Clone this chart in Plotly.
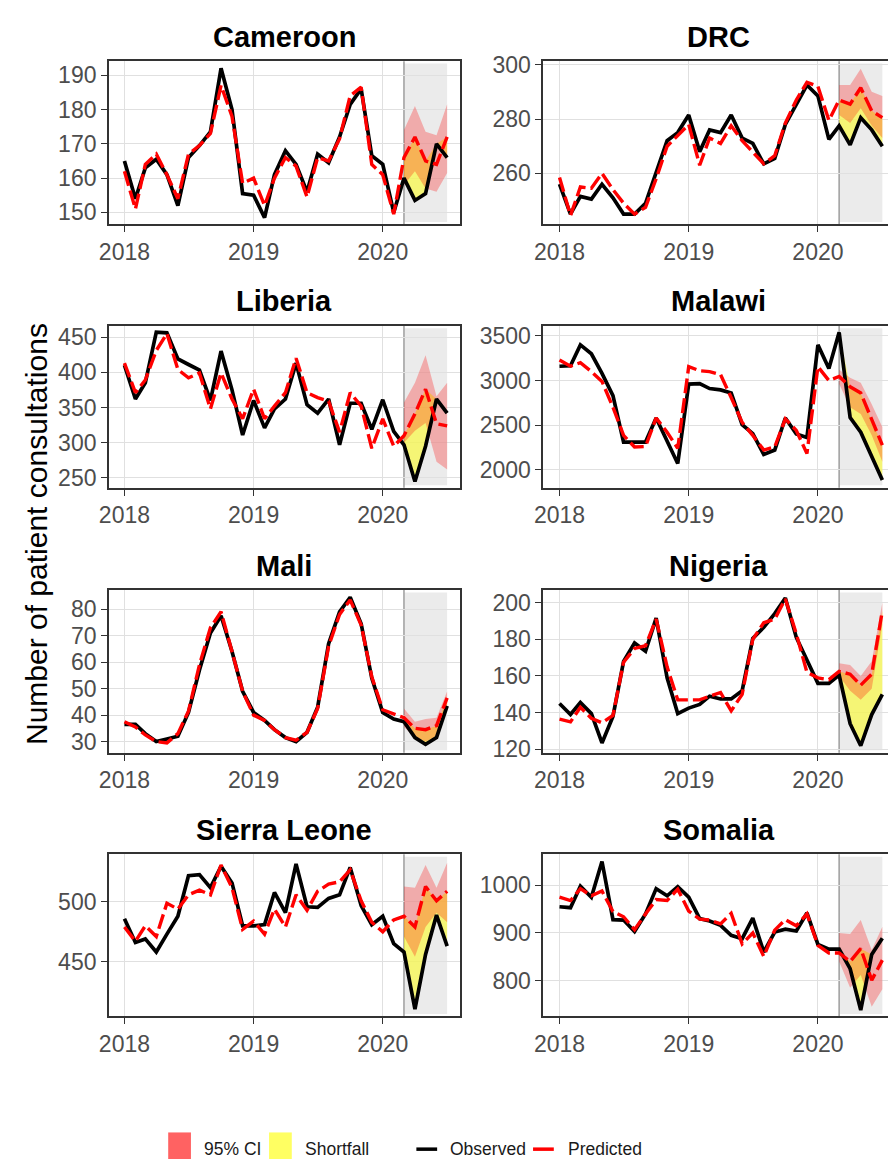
import pandas as pd
import plotly.graph_objects as go

# ---------------- data ----------------
countries = ["Cameroon", "DRC", "Liberia", "Malawi", "Mali", "Nigeria", "Sierra Leone", "Somalia"]
months = pd.date_range("2018-01-01", "2020-07-01", freq="MS")   # Jan 2018 .. Jul 2020
forecast_start = "2020-03-01"
forecast_end = "2020-07-01"
year_ticks = ["2018-01-01", "2019-01-01", "2020-01-01"]
year_labels = ["2018", "2019", "2020"]

cameroon_obs = [165, 154, 163, 165.5, 161, 152, 166, 169.5, 173.5, 192, 180, 155.5, 155, 148.5, 161, 168, 164, 156, 167, 164.5, 172, 181.5, 186, 166.5, 164, 150, 160, 153.5, 155.5, 170, 166]
cameroon_pred = [162, 151, 164, 167, 161, 154, 167, 169.5, 173, 187, 178, 158.5, 160, 152, 160, 166, 163.5, 154.5, 166, 165, 171.5, 184, 186.5, 164, 161, 149.5, 166, 172, 165, 164, 172]
cameroon_lo = [158, 162, 157, 156, 161.5]
cameroon_hi = [174, 181, 173.5, 172.5, 181.5]

drc_obs = [256, 245, 251.5, 250.5, 256, 251, 245, 245, 249, 260, 272, 275, 281.5, 268, 276, 275, 281.5, 273, 271, 263.5, 265.5, 278, 285.5, 292.5, 288.5, 272.5, 277.5, 270.5, 280.5, 276, 270]
drc_pred = [258.5, 244.5, 255, 254.5, 260, 254, 249, 245, 247.5, 258, 270, 274, 278, 263, 273, 271, 277.5, 272, 268, 263.5, 266.5, 278.5, 287, 293.5, 292, 279.5, 287, 285.5, 291.5, 283, 280.5]
drc_lo = [281.5, 278.5, 284, 277.5, 273]
drc_hi = [292.5, 292.5, 298.5, 290, 288.5]

liberia_obs = [410, 362, 385, 457, 456, 419, 411, 403, 360, 430, 375, 311, 360, 321, 348, 362, 413, 354, 342, 362, 297, 356, 356, 319, 361, 316, 297, 245, 295, 362, 342]
liberia_pred = [413, 371, 389, 431, 455, 404, 392, 399, 348, 399, 362, 334, 376, 334, 352, 371, 420, 371, 364, 359, 315, 371, 352, 292, 334, 295, 310, 341, 376, 327, 324]
liberia_lo = [300, 317, 328, 273, 262]
liberia_hi = [357, 385, 424, 366, 385]

malawi_obs = [3160, 3165, 3400, 3300, 3080, 2830, 2310, 2310, 2310, 2580, 2330, 2070, 2960, 2965, 2910, 2895, 2860, 2505, 2405, 2170, 2220, 2580, 2400, 2360, 3400, 3135, 3540, 2585, 2420, 2155, 1885]
malawi_pred = [3230, 3160, 3200, 3100, 2990, 2700, 2385, 2255, 2260, 2580, 2420, 2240, 3155, 3110, 3100, 3065, 2810, 2530, 2385, 2220, 2255, 2570, 2440, 2180, 3155, 3000, 3045, 2930, 2860, 2550, 2275]
malawi_lo = [2960, 2700, 2625, 2385, 2090]
malawi_hi = [3120, 3030, 2975, 2735, 2480]

mali_obs = [36.5, 36.5, 33, 30, 31, 32, 41, 57, 71, 77.5, 64, 49, 41, 38, 34.5, 31.5, 30, 33.5, 43, 67, 79, 84.5, 74.5, 54, 41, 38.5, 37.5, 31.5, 29, 31.5, 43.5]
mali_pred = [37.5, 35.5, 32.5, 30, 29.5, 33, 41.5, 59, 73, 79, 64, 49, 40, 38, 34.5, 31.5, 30.5, 33.5, 42.5, 66, 78, 83.5, 74, 54.5, 42, 40.5, 39, 35, 34.5, 36, 46.5]
mali_lo = [35.5, 31.5, 30, 32, 42]
mali_hi = [42.5, 37.5, 38.5, 39, 49]

nigeria_obs = [145, 139, 145.5, 139.5, 123.5, 138, 168, 178, 173.5, 191.5, 159, 139.5, 142.5, 144.5, 149, 147.5, 147.5, 152, 180.5, 186.5, 194, 202.5, 181, 168.5, 156, 156, 160.5, 134, 122, 139, 150]
nigeria_pred = [136.5, 135, 143, 137, 134.5, 138.5, 167.5, 175, 176.5, 191, 165, 147, 147, 147, 149, 151, 141, 150, 180, 189, 191, 202, 183, 162, 159, 158, 162.5, 161, 155, 161, 195.5]
nigeria_lo = [160, 152, 147, 153, 188]
nigeria_hi = [167, 166, 160, 168, 200]

sierra_leone_obs = [486, 466, 469, 458, 473, 488, 522, 523, 512, 530, 516, 480, 480, 481, 508, 491, 532, 496, 495.5, 503, 506, 529, 497, 481, 488, 465, 458, 410, 456, 489, 463]
sierra_leone_pred = [479, 467, 480, 471, 499, 494, 506, 510, 506, 531, 512, 477, 484, 473, 494, 479, 506, 493, 509, 515, 517, 527, 501, 483, 475, 485, 488, 479, 513, 501, 509]
sierra_leone_lo = [471, 454, 479, 491, 483]
sierra_leone_hi = [513, 512, 531, 512, 533]

somalia_obs = [955, 953, 998, 975, 1050, 928, 927, 903, 940, 993, 978, 997, 975, 930, 925, 916, 895, 888, 931, 860, 902, 908, 904, 942, 876, 866, 866, 825, 738, 855, 889]
somalia_pred = [975, 968, 993, 978, 988, 945, 934, 907, 940, 970, 968, 992, 946, 929, 927, 919, 941, 877, 900, 851, 906, 928, 915, 940, 874, 858, 858, 840, 867, 801, 843]
somalia_lo = [840, 785, 812, 745, 782]
somalia_hi = [900, 898, 927, 864, 913]

y_ticks = [
    [150, 160, 170, 180, 190],
    [260, 280, 300],
    [250, 300, 350, 400, 450],
    [2000, 2500, 3000, 3500],
    [30, 40, 50, 60, 70, 80],
    [120, 140, 160, 180, 200],
    [450, 500],
    [800, 900, 1000],
]

# ---------------- layout constants ----------------
W, H = 888, 1169
col_px = [(100, 455), (539.3, 888)]
row_px = [(53, 219), (322, 486.7), (590.7, 756), (859.3, 1024)]
x_ranges = [["2017-11-18", "2020-08-06"], ["2017-11-16", "2020-07-17"]]
y_ranges = [
    [146.5, 194.1], [241.2, 301.3], [236, 466], [1797, 3614],
    [25.8, 87.2], [118.2, 206.8], [404, 540], [725, 1065],
]
title_y_px = [28, 297, 566, 835]

FONT = "Liberation Sans, Arial, Helvetica, sans-serif"
TICK_COLOR = "#4d4d4d"
GRID = "#e0e0e0"
BORDER = "#333333"

series = [
    (cameroon_obs, cameroon_pred, cameroon_lo, cameroon_hi),
    (drc_obs, drc_pred, drc_lo, drc_hi),
    (liberia_obs, liberia_pred, liberia_lo, liberia_hi),
    (malawi_obs, malawi_pred, malawi_lo, malawi_hi),
    (mali_obs, mali_pred, mali_lo, mali_hi),
    (nigeria_obs, nigeria_pred, nigeria_lo, nigeria_hi),
    (sierra_leone_obs, sierra_leone_pred, sierra_leone_lo, sierra_leone_hi),
    (somalia_obs, somalia_pred, somalia_lo, somalia_hi),
]

fig = go.Figure()
layout_axes = {}
shapes = []
annotations = []

fc_x = list(months[-5:])

for k, (name, (obs, pred, lo, hi)) in enumerate(zip(countries, series)):
    r, c = divmod(k, 2)
    sfx = "" if k == 0 else str(k + 1)
    xa, ya = "x" + sfx, "y" + sfx
    x0p, x1p = col_px[c]
    y0p, y1p = row_px[r]

    layout_axes["xaxis" + sfx] = dict(
        domain=[x0p / W, x1p / W], anchor=ya, type="date", range=x_ranges[c],
        tickvals=year_ticks, ticktext=year_labels,
        showgrid=True, gridcolor=GRID, gridwidth=1.2, zeroline=False,
        showline=True, linecolor=BORDER, linewidth=1.6, mirror=True,
        ticks="outside", ticklen=6, tickcolor=BORDER, tickwidth=1.2,
        tickfont=dict(family=FONT, size=23, color=TICK_COLOR),
    )
    layout_axes["yaxis" + sfx] = dict(
        domain=[1 - y1p / H, 1 - y0p / H], anchor=xa, range=y_ranges[k],
        tickvals=y_ticks[k], ticktext=[str(v) for v in y_ticks[k]],
        showgrid=True, gridcolor=GRID, gridwidth=1.2, zeroline=False,
        showline=True, linecolor=BORDER, linewidth=1.6, mirror=(c == 0),
        ticks="outside", ticklen=6, tickcolor=BORDER, tickwidth=1.2,
        tickfont=dict(family=FONT, size=23, color=TICK_COLOR),
    )

    # forecast window shading and start line
    shapes.append(dict(type="rect", xref=xa, yref=ya + " domain",
                       x0=forecast_start, x1=forecast_end, y0=0.015, y1=0.985,
                       fillcolor="#ebebeb", line=dict(width=0), layer="below"))
    shapes.append(dict(type="line", xref=xa, yref=ya + " domain",
                       x0=forecast_start, x1=forecast_start, y0=0, y1=1,
                       line=dict(color="#a3a3a3", width=1.6), layer="below"))

    obs_fc = obs[-5:]
    pred_fc = pred[-5:]
    short_top = [max(o, p) for o, p in zip(obs_fc, pred_fc)]

    # shortfall ribbon
    fig.add_trace(go.Scatter(
        x=fc_x + fc_x[::-1], y=short_top + obs_fc[::-1], fill="toself",
        fillcolor="rgba(255,255,0,0.5)", line=dict(width=0), mode="lines",
        xaxis=xa, yaxis=ya, showlegend=False, hoverinfo="skip"))
    # 95% CI ribbon
    fig.add_trace(go.Scatter(
        x=fc_x + fc_x[::-1], y=list(hi) + list(lo)[::-1], fill="toself",
        fillcolor="rgba(255,0,0,0.27)", line=dict(width=0), mode="lines",
        xaxis=xa, yaxis=ya, showlegend=False, hoverinfo="skip"))
    # observed
    fig.add_trace(go.Scatter(
        x=months, y=obs, mode="lines", line=dict(color="black", width=3.7),
        xaxis=xa, yaxis=ya, showlegend=False, name="Observed"))
    # predicted
    fig.add_trace(go.Scatter(
        x=months, y=pred, mode="lines",
        line=dict(color="#ff0000", width=3.4, dash="15px,5px"),
        xaxis=xa, yaxis=ya, showlegend=False, name="Predicted"))

    # panel title
    cx = (x0p + (x1p if c == 0 else 894.3)) / 2
    annotations.append(dict(
        text="<b>%s</b>" % name, xref="paper", yref="paper",
        x=cx / W, y=1 - title_y_px[r] / H, xanchor="center", yanchor="middle",
        showarrow=False, font=dict(family=FONT, size=29, color="black")))

# y axis title
annotations.append(dict(
    text="Number of patient consultations", xref="paper", yref="paper",
    x=27 / W, y=1 - 534 / H, xanchor="center", yanchor="middle", textangle=-90,
    showarrow=False, font=dict(family=FONT, size=30, color="black")))

# manual legend
leg_y = 1159
shapes.append(dict(type="rect", xref="paper", yref="paper",
                   x0=160 / W, x1=183 / W, y0=1 - 1142 / H, y1=0,
                   fillcolor="#ff6262", line=dict(width=0)))
shapes.append(dict(type="rect", xref="paper", yref="paper",
                   x0=262 / W, x1=285 / W, y0=1 - 1142 / H, y1=0,
                   fillcolor="#ffff62", line=dict(width=0)))
shapes.append(dict(type="line", xref="paper", yref="paper",
                   x0=411 / W, x1=432 / W, y0=1 - leg_y / H, y1=1 - leg_y / H,
                   line=dict(color="black", width=3.5)))
shapes.append(dict(type="line", xref="paper", yref="paper",
                   x0=529 / W, x1=550 / W, y0=1 - leg_y / H, y1=1 - leg_y / H,
                   line=dict(color="#ff0000", width=3.5)))
for label, xpx in [("95% CI", 194), ("Shortfall", 296), ("Observed", 443), ("Predicted", 562)]:
    annotations.append(dict(
        text=label, xref="paper", yref="paper", x=xpx / W, y=1 - leg_y / H,
        xanchor="left", yanchor="middle", showarrow=False,
        font=dict(family=FONT, size=17.5, color="#1a1a1a")))

fig.update_layout(
    width=W, height=H, margin=dict(l=0, r=0, t=0, b=0),
    paper_bgcolor="white", plot_bgcolor="white",
    showlegend=False, shapes=shapes, annotations=annotations,
    **layout_axes,
)

fig.write_html(
    "out.html",
    config={"displayModeBar": False},
    post_script="document.body.style.margin='0';document.body.style.overflow='hidden';",
)
